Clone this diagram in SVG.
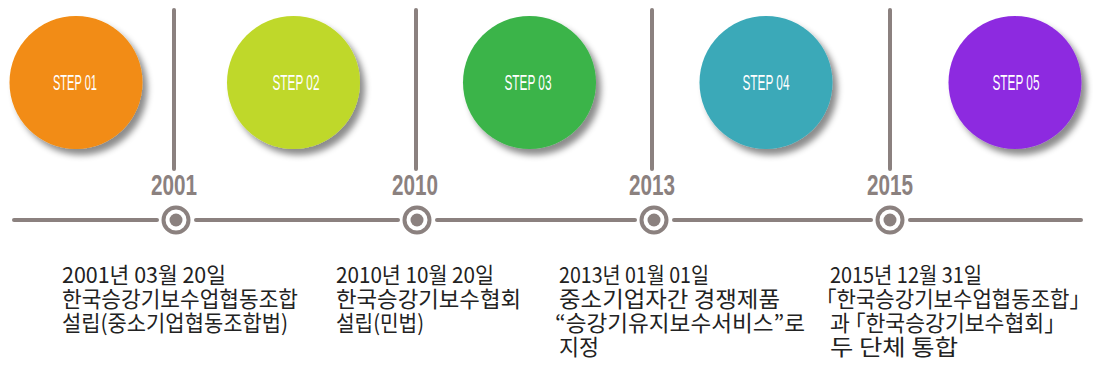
<svg xmlns="http://www.w3.org/2000/svg" width="1093" height="365" viewBox="0 0 1093 365">
<defs>
<filter id="sh" x="-20%" y="-20%" width="150%" height="150%">
<feDropShadow dx="5" dy="6" stdDeviation="3" flood-color="#000" flood-opacity="0.45"/>
</filter>
<style>
.step{font-family:"Liberation Sans",sans-serif;font-size:22px;fill:#fff;text-anchor:middle}
.year{font-family:"Liberation Sans",sans-serif;font-weight:bold;font-size:29px;fill:#8b817f;text-anchor:middle}
.line{stroke:#8b817f;stroke-width:4;stroke-linecap:round;fill:none}
.ring{stroke:#8b817f;stroke-width:4;fill:#fff}
.dot{fill:#8b817f}
.desc{font-family:"Noto Sans CJK KR","Noto Sans",sans-serif;font-size:22px;fill:#222}
.br{font-feature-settings:"halt"}
</style>
</defs>
<g id="connectors">
<line class="line" x1="174" y1="10" x2="174" y2="169"/>
<line class="line" x1="416" y1="10" x2="416" y2="169"/>
<line class="line" x1="652" y1="10" x2="652" y2="169"/>
<line class="line" x1="890" y1="10" x2="890" y2="169"/>
<line class="line" x1="14" y1="220" x2="157" y2="220"/>
<line class="line" x1="196" y1="220" x2="398" y2="220"/>
<line class="line" x1="437" y1="220" x2="635" y2="220"/>
<line class="line" x1="674" y1="220" x2="871" y2="220"/>
<line class="line" x1="910" y1="220" x2="1081" y2="220"/>
</g>
<g id="step1"><circle cx="76" cy="82.5" r="66.5" fill="#f28c12" filter="url(#sh)"/><text class="step" x="75" y="90" textLength="44" lengthAdjust="spacingAndGlyphs">STEP 01</text></g>
<g id="step2"><circle cx="293.5" cy="82.5" r="66.5" fill="#bfd82b" filter="url(#sh)"/><text class="step" x="296" y="90" textLength="47" lengthAdjust="spacingAndGlyphs">STEP 02</text></g>
<g id="step3"><circle cx="529.5" cy="82.5" r="66.5" fill="#3bb44a" filter="url(#sh)"/><text class="step" x="528" y="90" textLength="47" lengthAdjust="spacingAndGlyphs">STEP 03</text></g>
<g id="step4"><circle cx="766" cy="82.5" r="66.5" fill="#3aa9b8" filter="url(#sh)"/><text class="step" x="766" y="90" textLength="47" lengthAdjust="spacingAndGlyphs">STEP 04</text></g>
<g id="step5"><circle cx="1015" cy="82.5" r="66.5" fill="#8d2be0" filter="url(#sh)"/><text class="step" x="1016" y="90" textLength="47" lengthAdjust="spacingAndGlyphs">STEP 05</text></g>
<g id="y2001"><text class="year" x="174" y="195" textLength="46" lengthAdjust="spacingAndGlyphs">2001</text><circle class="ring" cx="176" cy="220" r="12.5"/><circle class="dot" cx="176" cy="220" r="6.5"/></g>
<g id="y2010"><text class="year" x="415" y="195" textLength="46" lengthAdjust="spacingAndGlyphs">2010</text><circle class="ring" cx="417" cy="220" r="12.5"/><circle class="dot" cx="417" cy="220" r="6.5"/></g>
<g id="y2013"><text class="year" x="652" y="195" textLength="46" lengthAdjust="spacingAndGlyphs">2013</text><circle class="ring" cx="654" cy="220" r="12.5"/><circle class="dot" cx="654" cy="220" r="6.5"/></g>
<g id="y2015"><text class="year" x="890" y="195" textLength="46" lengthAdjust="spacingAndGlyphs">2015</text><circle class="ring" cx="890" cy="220" r="12.5"/><circle class="dot" cx="890" cy="220" r="6.5"/></g>
<g id="desc1" class="desc">
<text x="62" y="283" textLength="164" lengthAdjust="spacingAndGlyphs">2001년 03월 20일</text>
<text x="62" y="307" textLength="236" lengthAdjust="spacingAndGlyphs">한국승강기보수업협동조합</text>
<text x="62" y="331" textLength="226" lengthAdjust="spacingAndGlyphs">설립(중소기업협동조합법)</text>
</g>
<g id="desc2" class="desc">
<text x="336" y="283" textLength="158" lengthAdjust="spacingAndGlyphs">2010년 10월 20일</text>
<text x="336" y="307" textLength="185" lengthAdjust="spacingAndGlyphs">한국승강기보수협회</text>
<text x="336" y="331" textLength="88" lengthAdjust="spacingAndGlyphs">설립(민법)</text>
</g>
<g id="desc3" class="desc">
<text x="559" y="283" textLength="150" lengthAdjust="spacingAndGlyphs">2013년 01월 01일</text>
<text x="559" y="307" textLength="221" lengthAdjust="spacingAndGlyphs">중소기업자간 경쟁제품</text>
<text x="555" y="331" textLength="250" lengthAdjust="spacingAndGlyphs">“승강기유지보수서비스”로</text>
<text x="559" y="355" textLength="40" lengthAdjust="spacingAndGlyphs">지정</text>
</g>
<g id="desc4" class="desc">
<text x="830" y="283" textLength="152" lengthAdjust="spacingAndGlyphs">2015년 12월 31일</text>
<text x="826" y="307" class="br" textLength="254" lengthAdjust="spacingAndGlyphs">「한국승강기보수업협동조합」</text>
<text x="830" y="331" class="br" textLength="225" lengthAdjust="spacingAndGlyphs">과 「한국승강기보수협회」</text>
<text x="830" y="355" textLength="128" lengthAdjust="spacingAndGlyphs">두 단체 통합</text>
</g>
</svg>
